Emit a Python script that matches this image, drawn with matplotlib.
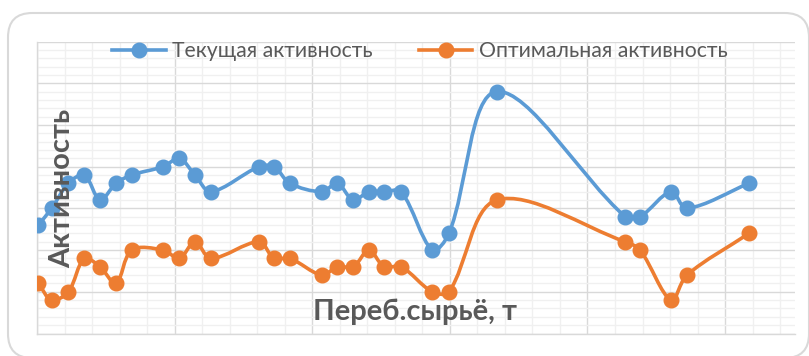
import matplotlib.pyplot as plt
import numpy as np
from matplotlib.path import Path
from matplotlib.patches import PathPatch, FancyBboxPatch
from matplotlib.lines import Line2D
from matplotlib.ticker import MultipleLocator

# processed raw material (t) and activity readings
raw_material = [0.5, 5.3, 11.4, 17.2, 22.9, 28.7, 34.4, 45.9, 51.7, 57.4,
                63.2, 80.7, 86.1, 91.9, 103.5, 109.1, 114.9, 120.6, 126.1, 132.3,
                143.6, 149.7, 167.0, 213.7, 219.1, 230.4, 236.1, 258.7]
current_activity = [26, 30, 36, 38, 32, 36, 38, 40, 42, 38,
                    34, 40, 40, 36, 34, 36, 32, 34, 34, 34,
                    20, 24, 58, 28, 28, 34, 30, 36]
optimal_activity = [12, 8, 10, 18, 16, 12, 20, 20, 18, 22,
                    18, 22, 18, 18, 14, 16, 16, 20, 16, 16,
                    10, 10, 32, 22, 20, 8, 14, 24]
series_names = ["Текущая активность", "Оптимальная активность"]
colors = ["#5B9BD5", "#ED7D31"]

W, H = 809, 356
FONT = "Lato"
XMAX, YMAX = 275.4, 70
AX_W, AX_H = 795 - 37, 333.5 - 41.5


def smooth_path(xs, ys):
    # smoothed line like excel: bezier segments, tangents weighted by segment length
    sx, sy = AX_W / XMAX, AX_H / YMAX
    pts = np.column_stack([np.asarray(xs) * sx, np.asarray(ys) * sy])
    n = len(pts)
    seg = np.hypot(*np.diff(pts, axis=0).T)
    verts = [pts[0]]
    codes = [Path.MOVETO]
    for i in range(n - 1):
        p1, p2 = pts[i], pts[i + 1]
        if i > 0:
            c1 = p1 + (p2 - pts[i - 1]) * seg[i] / (seg[i - 1] + seg[i]) / 3
        else:
            c1 = p1 + (p2 - p1) / 3
        if i + 2 < n:
            c2 = p2 - (pts[i + 2] - p1) * seg[i] / (seg[i] + seg[i + 1]) / 3
        else:
            c2 = p2 - (p2 - p1) / 3
        verts += [c1, c2, p2]
        codes += [Path.CURVE4] * 3
    verts = np.array(verts) / [sx, sy]
    return Path(verts, codes)


fig = plt.figure(figsize=(W / 100, H / 100), dpi=100)
fig.patch.set_facecolor("white")

# rounded chart border
border = FancyBboxPatch((8 / W, 1 - 358 / H), 801 / W, 345 / H,
                        boxstyle="round,pad=0,rounding_size=0.03",
                        transform=fig.transFigure, fill=False,
                        edgecolor="#d9d9d9", linewidth=1.5, mutation_aspect=W / H)
fig.patches.append(border)

ax = fig.add_axes([37 / W, 1 - 333.5 / H, AX_W / W, AX_H / H])
ax.set_xlim(0, XMAX)
ax.set_ylim(0, YMAX)
ax.xaxis.set_major_locator(MultipleLocator(50))
ax.xaxis.set_minor_locator(MultipleLocator(10))
ax.yaxis.set_major_locator(MultipleLocator(10))
ax.yaxis.set_minor_locator(MultipleLocator(2))
ax.grid(which="major", color="#d9d9d9", linewidth=1.0)
ax.grid(which="minor", color="#f0f0f0", linewidth=1.0)
ax.set_axisbelow(True)
ax.tick_params(which="both", length=0, labelleft=False, labelbottom=False)
for side in ["top", "right"]:
    ax.spines[side].set_visible(False)
for side in ["left", "bottom"]:
    ax.spines[side].set_color("#d9d9d9")
    ax.spines[side].set_linewidth(1.0)

handles = []
for ys, c, name in zip([current_activity, optimal_activity], colors, series_names):
    ax.add_patch(PathPatch(smooth_path(raw_material, ys), fill=False,
                           edgecolor=c, linewidth=2.6, capstyle="round",
                           joinstyle="round", zorder=3))
    ax.plot(raw_material, ys, linestyle="none", marker="o", markersize=10.5,
            color=c, zorder=4)
    handles.append(Line2D([], [], color=c, linewidth=2.6, marker="o",
                          markersize=10.5, label=name))

ax.legend(handles=handles, loc="center", bbox_to_anchor=(420 / W, 1 - 51 / H),
          bbox_transform=fig.transFigure, ncol=2, frameon=False,
          prop={"family": FONT, "size": 15.3}, labelcolor="#595959",
          handlelength=2.5, handletextpad=0.3, columnspacing=2.2)

fig.text(62 / W, 1 - 188 / H, "Активность", rotation=90, ha="center",
         va="center", fontsize=21, fontweight="bold", color="#595959",
         family=FONT)
fig.text(415 / W, 1 - 312 / H, "Переб.сырьё, т", ha="center", va="center",
         fontsize=21, fontweight="bold", color="#595959", family=FONT)

fig.savefig("out.png", dpi=100)
